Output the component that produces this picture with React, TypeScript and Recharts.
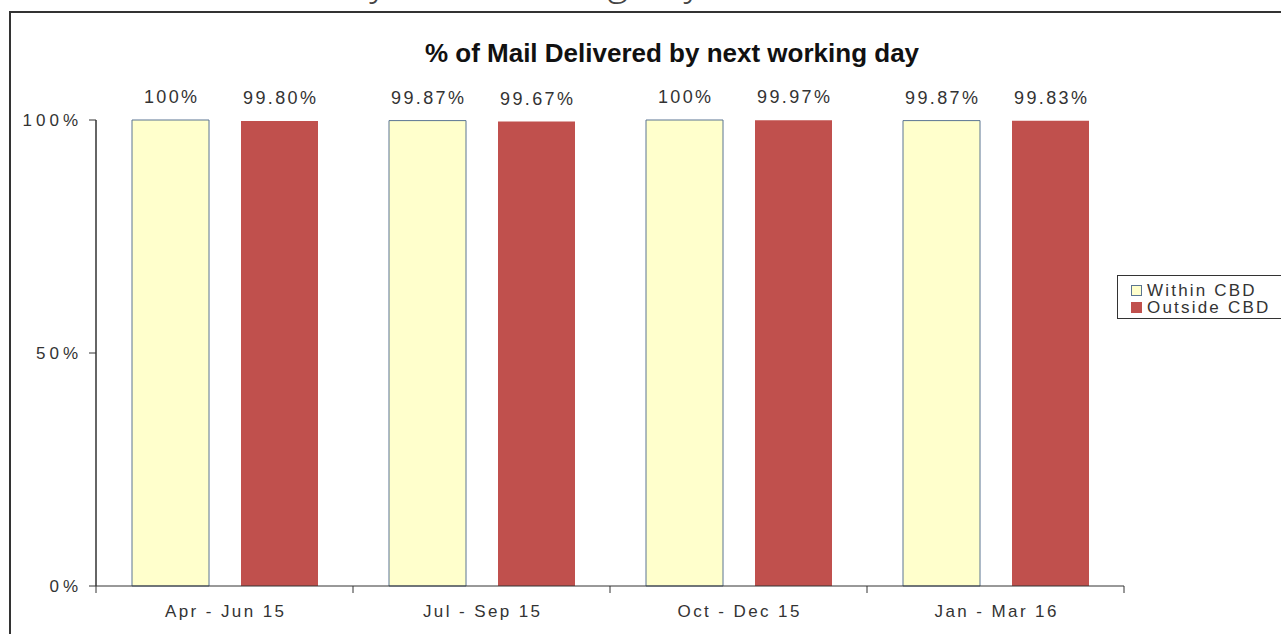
import React from "react";
import { BarChart, Bar, XAxis, YAxis, LabelList } from "recharts";

const categories = ["Apr - Jun 15", "Jul - Sep 15", "Oct - Dec 15", "Jan - Mar 16"];
const withinCBD = [100, 99.87, 100, 99.87];
const outsideCBD = [99.8, 99.67, 99.97, 99.83];
const yTicks = [0, 50, 100];
const seriesNames = ["Within CBD", "Outside CBD"];
const titleText = "% of Mail Delivered by next working day";
const headerText = "Mail Delivered by next working day";

const data = categories.map((c, i) => ({
  name: c,
  within: withinCBD[i],
  outside: outsideCBD[i],
}));

const FONT = "'Liberation Sans', Arial, sans-serif";
const W = 1281;
const H = 634;
const M = { top: 120, right: 157, bottom: 18, left: 36 };
const YW = 60;
const XH = 30;
const YELLOW = "#FFFFCC";
const YELLOW_STROKE = "#5B7592";
const RED = "#C0504D";

const fmt = (v: number) => (v === 100 ? "100%" : v.toFixed(2) + "%");

const DataLabel = (props: any) => {
  const { x, y, width, value } = props;
  return (
    <text
      x={x + width / 2 + 1.2}
      y={y - 17}
      textAnchor="middle"
      fontFamily={FONT}
      fontSize={18}
      letterSpacing={2.4}
      fill="#333"
    >
      {fmt(value)}
    </text>
  );
};

const XTick = (props: any) => {
  const { x, y, payload, index } = props;
  const half =
    payload && typeof payload.offset === "number" && payload.offset > 0
      ? payload.offset
      : (W - M.right - M.left - YW) / categories.length / 2;
  const last = index === categories.length - 1;
  return (
    <g>
      <line x1={x - half} x2={x - half} y1={y} y2={y + 7} stroke="#333" strokeWidth={1} />
      {last && <line x1={x + half} x2={x + half} y1={y} y2={y + 7} stroke="#333" strokeWidth={1} />}
      <text
        x={x + 1.2}
        y={y + 31}
        textAnchor="middle"
        fontFamily={FONT}
        fontSize={17}
        letterSpacing={2.4}
        fill="#333"
      >
        {payload.value}
      </text>
    </g>
  );
};

export default function App() {
  return (
    <div
      style={{
        position: "absolute",
        left: 0,
        top: 0,
        width: W,
        height: H,
        overflow: "hidden",
        background: "#fff",
        fontFamily: FONT,
      }}
    >
      <svg width={W} height={H} style={{ position: "absolute", left: 0, top: 0 }}>
        <text
          x={702}
          y={-6}
          textAnchor="end"
          fontFamily="'Open Sans', sans-serif"
          fontWeight={300}
          fontSize={40}
          fill="#444"
        >
          {headerText}
        </text>
        <rect x={10} y={12} width={W + 20} height={H + 20} fill="#fff" stroke="#333" strokeWidth={2} />
        <text
          x={672}
          y={62}
          textAnchor="middle"
          fontFamily={FONT}
          fontWeight="bold"
          fontSize={26}
          fill="#111"
        >
          {titleText}
        </text>
      </svg>
      <div style={{ position: "absolute", left: 0, top: 0 }}>
        <BarChart width={W} height={H} data={data} margin={M} barSize={77} barGap={32}>
          <XAxis
            dataKey="name"
            height={XH}
            tickLine={false}
            tickSize={0}
            tickMargin={0}
            axisLine={{ stroke: "#333", strokeWidth: 1 }}
            tick={<XTick />}
            interval={0}
          />
          <YAxis
            width={YW}
            domain={[0, 100]}
            ticks={yTicks}
            tickSize={7}
            tickMargin={7}
            tickFormatter={(v: number) => v + "%"}
            axisLine={{ stroke: "#333", strokeWidth: 1.5 }}
            tickLine={{ stroke: "#333" }}
            tick={{ fontSize: 17, fill: "#333", fontFamily: FONT, letterSpacing: 4 } as any}
          />
          <Bar dataKey="within" name={seriesNames[0]} fill={YELLOW} stroke={YELLOW_STROKE} strokeWidth={1} isAnimationActive={false}>
            <LabelList dataKey="within" content={<DataLabel />} />
          </Bar>
          <Bar dataKey="outside" name={seriesNames[1]} fill={RED} isAnimationActive={false}>
            <LabelList dataKey="outside" content={<DataLabel />} />
          </Bar>
        </BarChart>
      </div>
      <div
        style={{
          position: "absolute",
          left: 1117,
          top: 275,
          width: 200,
          height: 44,
          border: "1.5px solid #333",
          background: "#fff",
          boxSizing: "border-box",
        }}
      >
        {seriesNames.map((n, i) => (
          <div
            key={n}
            style={{
              position: "absolute",
              left: 13,
              top: 6 + i * 17,
              height: 17,
              display: "flex",
              alignItems: "center",
              whiteSpace: "nowrap",
              fontSize: 17,
              letterSpacing: 2.2,
              color: "#333",
            }}
          >
            <span
              style={{
                display: "inline-block",
                width: 9,
                height: 9,
                marginRight: 5,
                background: i === 0 ? YELLOW : RED,
                border: i === 0 ? "1px solid " + YELLOW_STROKE : "1px solid " + RED,
              }}
            />
            {n}
          </div>
        ))}
      </div>
    </div>
  );
}
